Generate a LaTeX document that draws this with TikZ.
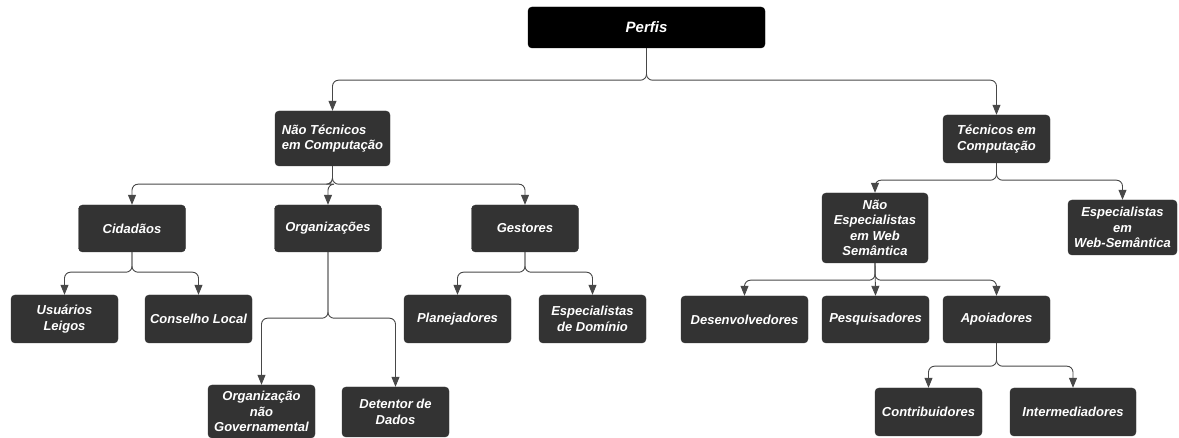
\documentclass[tikz,border=0pt]{standalone}
\usepackage{fontspec}
\setmainfont{Liberation Sans}
\usetikzlibrary{arrows.meta}
\definecolor{boxgray}{RGB}{51,51,51}
\definecolor{linegray}{RGB}{72,72,72}

\tikzset{
  box/.style={draw=boxgray, fill=boxgray, text=white, rounded corners=4pt,
    minimum width=107pt, minimum height=48pt, inner sep=1pt, align=center,
    font=\fontsize{13}{15.5}\selectfont\bfseries\itshape},
  conn/.style={draw=linegray, line width=0.9pt, rounded corners=6pt,
    -{Triangle[length=10pt,width=8pt]}}
}

\begin{document}
\begin{tikzpicture}[x=1pt, y=-1pt]

\useasboundingbox (0,0) rectangle (1179,438);

%% root
\node[box, fill=black, draw=black, minimum width=237pt, minimum height=41pt,
  font=\fontsize{15}{18}\selectfont\bfseries\itshape] (pf) at (646.5,27.5) {Perfis};

%% first level
\node[box, minimum width=115pt, minimum height=55pt, align=left] (nt) at (332.5,138.5) {Não Técnicos\\em Computação};
\node[box] (tc) at (996.5,139) {Técnicos em\\Computação};

%% non technical side
\node[box, minimum height=47pt] (cid) at (132,228.5) {Cidadãos};
\node[box, minimum height=47pt] (org) at (328,228.5) {Organizações};
\node[box, minimum height=47pt] (ges) at (525,228.5) {Gestores};

\node[box] (ul) at (64.5,319) {Usuários\\Leigos};
\node[box] (cl) at (198.5,319) {Conselho Local};
\node[box] (pl) at (457.5,319) {Planejadores};
\node[box] (ed) at (592.5,319) {Especialistas\\de Domínio};

\node[box, minimum height=53pt] (ong) at (261.5,411.5) {Organização\\não\\Governamental};
\node[box, minimum height=50pt] (dd) at (395.5,412) {Detentor de\\Dados};

%% technical side
\node[box, minimum width=106pt, minimum height=70pt] (nes) at (875,228) {Não\\Especialistas\\em Web\\Semântica};
\node[box, minimum width=109pt, minimum height=55pt] (ews) at (1122.5,227.5) {Especialistas\\em\\Web-Semântica};

\node[box, minimum width=127pt, minimum height=47pt] (des) at (744.5,319.5) {Desenvolvedores};
\node[box, minimum height=47pt] (pes) at (875.5,319.5) {Pesquisadores};
\node[box, minimum height=47pt] (apo) at (996.5,319.5) {Apoiadores};

\node[box] (con) at (928.5,412) {Contribuidores};
\node[box, minimum width=126pt] (int) at (1073,412) {Intermediadores};

%% connectors: parent / child / drop before the turn
\foreach \src/\dst/\dy in {pf/nt/32, pf/tc/32,
    nt/cid/18, nt/org/18, nt/ges/18,
    cid/ul/20, cid/cl/20, ges/pl/20, ges/ed/20,
    org/ong/66, org/dd/66,
    tc/nes/17, tc/ews/17,
    nes/des/17, nes/apo/17,
    apo/con/23, apo/int/23}
  \draw[conn] (\src.south) -- ++(0,\dy) -| (\dst.north);

\draw[conn] (nes.south) -- (pes.north);

\end{tikzpicture}
\end{document}
